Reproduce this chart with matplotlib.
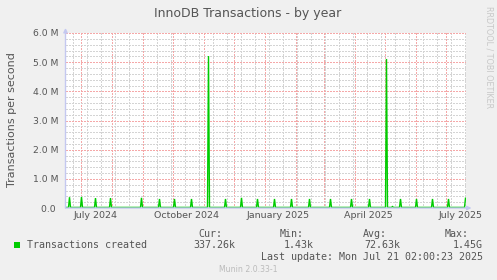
from datetime import datetime, timedelta

import matplotlib

matplotlib.use("Agg")
import matplotlib.dates as mdates
import matplotlib.pyplot as plt
from matplotlib.patches import Rectangle
from matplotlib.ticker import FuncFormatter, MultipleLocator, NullFormatter

W, H = 497, 280

title = "InnoDB Transactions - by year"
y_label = "Transactions per second"
side_note = "RRDTOOL / TOBI OETIKER"
footer = "Munin 2.0.33-1"

range_start = datetime(2024, 6, 16)
range_end = datetime(2025, 7, 21, 12)

# values in millions of transactions per second
baseline = 0.02
spike_dates = [
    "2024-06-20", "2024-07-02", "2024-07-16", "2024-07-31", "2024-08-31",
    "2024-09-18", "2024-10-03", "2024-10-20", "2024-11-06", "2024-11-23",
    "2024-12-09", "2024-12-25", "2025-01-11", "2025-01-28", "2025-02-15",
    "2025-03-08", "2025-03-29", "2025-04-16", "2025-05-03", "2025-05-09",
    "2025-05-17", "2025-06-02", "2025-06-18", "2025-07-04",
]
spike_values = [
    0.37, 0.38, 0.34, 0.34, 0.35,
    0.31, 0.31, 0.31, 5.21, 0.31,
    0.35, 0.31, 0.31, 0.31, 0.31,
    0.31, 0.31, 0.31, 5.11, 0.05,
    0.31, 0.31, 0.31, 0.31,
]
last_date = "2025-07-21"
last_value = 0.337

month_labels = ["July 2024", "October 2024", "January 2025", "April 2025", "July 2025"]
label_dates = ["2024-07-16", "2024-10-15", "2025-01-15", "2025-04-15", "2025-07-16"]

legend_name = "Transactions created"
stat_names = ["Cur:", "Min:", "Avg:", "Max:"]
stat_values = ["337.26k", "1.43k", "72.63k", "1.45G"]
last_update = "Last update: Mon Jul 21 02:00:23 2025"

LINE = "#00cc00"
TEXT = "#555555"
AXIS = "#c4c8f0"


def px(x, y):
    return x / W, 1 - y / H


def parse(d):
    return datetime.strptime(d, "%Y-%m-%d")


one_day = timedelta(days=1)
xs = [range_start]
ys = [baseline]
for d, v in zip(spike_dates, spike_values):
    day = parse(d)
    xs += [day - one_day, day, day + one_day]
    ys += [baseline, v, baseline]
xs += [parse(last_date) - one_day, parse(last_date)]
ys += [baseline, last_value]

fig = plt.figure(figsize=(W / 100, H / 100), dpi=100, facecolor="#f0f0f0")
ax = fig.add_axes([65.5 / W, (H - 208) / H, 400.5 / W, 175 / H])
ax.set_facecolor("white")
for s in ax.spines.values():
    s.set_visible(False)

ax.plot(xs, ys, color=LINE, lw=1.0, solid_joinstyle="miter")
ax.set_xlim(range_start, range_end)
ax.set_ylim(0, 6.0)

ax.xaxis.set_major_locator(mdates.MonthLocator())
ax.xaxis.set_minor_locator(mdates.WeekdayLocator(byweekday=mdates.SU, interval=2))
ax.xaxis.set_major_formatter(NullFormatter())
ax.yaxis.set_major_locator(MultipleLocator(1.0))
ax.yaxis.set_minor_locator(MultipleLocator(0.2))
ax.yaxis.set_major_formatter(FuncFormatter(lambda v, _: "0.0 " if v == 0 else f"{v:.1f} M"))
ax.tick_params(which="both", length=0)
ax.tick_params(axis="y", labelsize=6.7, labelcolor=TEXT, pad=5)

ax.set_axisbelow(True)
ax.grid(which="minor", color="#d4d4d4", lw=0.72, ls=(0, (1.5, 1.5)), antialiased=False)
ax.grid(which="major", color="#f5a8a8", lw=0.72, ls=(0, (1.5, 1.5)), antialiased=False)

for lbl, d in zip(month_labels, label_dates):
    ax.text(parse(d), -8 / 175, lbl, transform=ax.get_xaxis_transform(),
            ha="center", va="center", fontsize=6.8, color=TEXT)

# rrdtool style axis arrows
ax.annotate("", xy=(0, 180 / 175), xytext=(0, 0), xycoords="axes fraction",
            arrowprops=dict(arrowstyle="-|>", color=AXIS, lw=1, mutation_scale=6,
                            shrinkA=0, shrinkB=0), annotation_clip=False)
ax.annotate("", xy=(406 / 400.5, 0), xytext=(0, 0), xycoords="axes fraction",
            arrowprops=dict(arrowstyle="-|>", color=AXIS, lw=1, mutation_scale=6,
                            shrinkA=0, shrinkB=0), annotation_clip=False)

fig.text(*px(248, 14), title, ha="center", va="center", fontsize=9, color=TEXT)
fig.text(*px(12, 120), y_label, ha="center", va="center", rotation=90,
         fontsize=8, color=TEXT)
fig.text(*px(489, 57), side_note, ha="center", va="center", rotation=270,
         fontsize=5.8, color="#c8c8c8")
fig.text(*px(248, 269), footer, ha="center", va="center", fontsize=5.6, color="#bbbbbb")

mono = dict(family="DejaVu Sans Mono", fontsize=7.2, color=TEXT, va="center")
fig.add_artist(Rectangle(px(14, 248), 6 / W, 6 / H, transform=fig.transFigure,
                         color=LINE, lw=0))
fig.text(*px(27, 245.5), legend_name, ha="left", **mono)
for name, value, x_head, x_val in zip(stat_names, stat_values,
                                      [222, 304, 387, 469], [235, 314, 400, 483]):
    fig.text(*px(x_head, 234), name, ha="right", **mono)
    fig.text(*px(x_val, 245.5), value, ha="right", **mono)
fig.text(*px(483, 257), last_update, ha="right", **mono)

fig.savefig("out.png", dpi=100, facecolor=fig.get_facecolor())
